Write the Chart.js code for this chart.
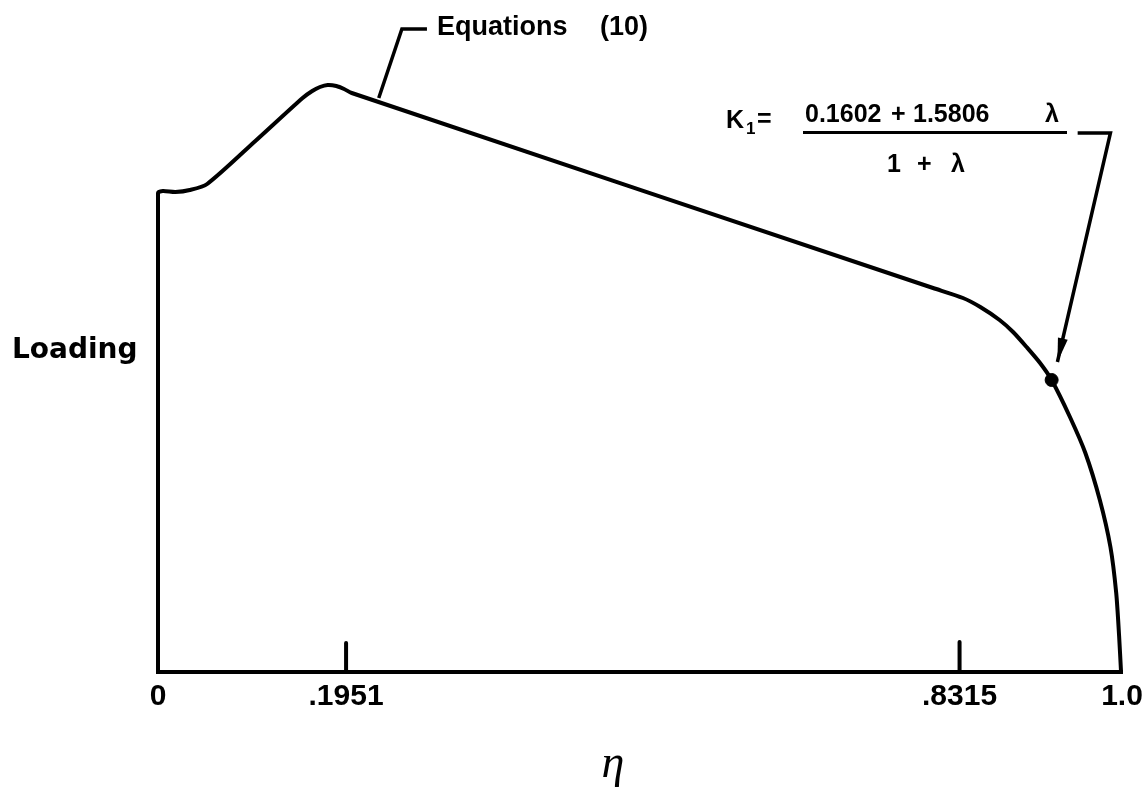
<!DOCTYPE html>
<html>
<head>
<meta charset="utf-8">
<script src="https://cdn.jsdelivr.net/npm/chart.js@4"></script>
<style>
html,body{margin:0;padding:0;background:#fff;}
#wrap{width:1144px;height:791px;position:relative;}
</style>
</head>
<body>
<div id="wrap"><canvas id="c" width="1144" height="791"></canvas></div>
<script>
// ---- data ----
const etaValues = [0, 0, 0.005, 0.018, 0.033, 0.051, 0.101, 0.150, 0.160, 0.168, 0.176, 0.185, 0.193, 0.201, 0.804, 0.835, 0.853, 0.873, 0.887, 0.901, 0.915, 0.927, 0.946, 0.962, 0.977, 0.988, 0.994, 0.997, 0.999];
const loadingValues = [0, 4.79, 4.81, 4.80, 4.82, 4.88, 5.31, 5.74, 5.81, 5.85, 5.87, 5.86, 5.83, 5.79, 3.84, 3.74, 3.65, 3.52, 3.40, 3.25, 3.09, 2.92, 2.55, 2.19, 1.72, 1.25, 0.79, 0.36, 0];
const tickValues = [0, 0.1951, 0.8315, 1.0];
const tickLabels = ['0', '.1951', '.8315', '1.0'];
const tickMarkEta = [0.1951, 0.8315];
const tickMarkHeight = [0.29, 0.30];
const markedEta = [0.927];
const markedLoading = [2.92];
const equationsLeaderEta = [0.279, 0.253, 0.229];
const equationsLeaderLoading = [6.43, 6.43, 5.74];
const k1LeaderEta = [0.954, 0.988, 0.933];
const k1LeaderLoading = [5.39, 5.39, 3.10];

const toXY = (xs, ys) => xs.map((v, i) => ({x: v, y: ys[i]}));

const datasets = [
  {data: toXY(etaValues, loadingValues), borderColor: '#000', borderWidth: 4, pointRadius: 0, tension: 0.25, borderJoinStyle: 'round', borderCapStyle: 'round', clip: false},
  {data: toXY(markedEta, markedLoading), showLine: false, pointRadius: 6.5, pointBackgroundColor: '#000', pointBorderColor: '#000', clip: false},
  {data: toXY(equationsLeaderEta, equationsLeaderLoading), borderColor: '#000', borderWidth: 3.5, pointRadius: 0, tension: 0, clip: false},
  {data: toXY(k1LeaderEta, k1LeaderLoading), borderColor: '#000', borderWidth: 3.5, pointRadius: 0, tension: 0, borderCapStyle: 'butt', clip: false}
];
tickMarkEta.forEach((e, i) => {
  datasets.push({data: [{x: e, y: 0}, {x: e, y: tickMarkHeight[i]}], borderColor: '#000', borderWidth: 4, pointRadius: 0, borderCapStyle: 'round', clip: false});
});

const annot = {
  id: 'annot',
  afterDatasetsDraw(chart) {
    const {ctx, scales: {x, y}} = chart;
    ctx.save();
    ctx.fillStyle = '#000';
    ctx.strokeStyle = '#000';
    // arrowhead at the end of the K1 leader
    const n = k1LeaderEta.length;
    const tx = x.getPixelForValue(k1LeaderEta[n - 1]), ty = y.getPixelForValue(k1LeaderLoading[n - 1]);
    const fx = x.getPixelForValue(k1LeaderEta[n - 2]), fy = y.getPixelForValue(k1LeaderLoading[n - 2]);
    const a = Math.atan2(ty - fy, tx - fx), c = Math.cos(a), s = Math.sin(a);
    const L = 24, W = 5;
    ctx.beginPath();
    ctx.moveTo(tx, ty);
    ctx.lineTo(tx - L * c + W * s, ty - L * s - W * c);
    ctx.lineTo(tx - L * c - W * s, ty - L * s + W * c);
    ctx.closePath();
    ctx.fill();

    ctx.textBaseline = 'alphabetic';
    ctx.textAlign = 'left';
    // Loading
    ctx.font = 'bold 28px "DejaVu Sans"';
    ctx.fillText('Loading', 12, 358);
    // Equations (10)
    ctx.font = 'bold 27px "Liberation Sans"';
    ctx.fillText('Equations', 437, 35);
    ctx.fillText('(10)', 600, 35);
    // K1 formula
    ctx.font = 'bold 25px "Liberation Sans"';
    ctx.fillText('K', 726, 128);
    ctx.font = 'bold 17px "Liberation Sans"';
    ctx.fillText('1', 746, 134);
    ctx.font = 'bold 25px "Liberation Sans"';
    ctx.fillText('=', 757, 127);
    ctx.fillText('0.1602', 805, 122);
    ctx.fillText('+', 891, 122);
    ctx.fillText('1.5806', 913, 122);
    ctx.fillText('\u03bb', 1045, 122);
    ctx.lineWidth = 3;
    ctx.beginPath();
    ctx.moveTo(803, 132.5);
    ctx.lineTo(1067, 132.5);
    ctx.stroke();
    ctx.fillText('1', 887, 172);
    ctx.fillText('+', 917, 172);
    ctx.fillText('\u03bb', 951, 172);
    // eta axis title
    ctx.font = 'italic 46px "Liberation Serif"';
    ctx.textAlign = 'center';
    ctx.fillText('\u03b7', 613, 777);
    ctx.restore();
  }
};

new Chart(document.getElementById('c'), {
  type: 'line',
  data: {datasets},
  options: {
    responsive: false,
    animation: false,
    devicePixelRatio: 1,
    parsing: false,
    layout: {padding: {left: 158, right: 22, top: 72, bottom: 0}},
    plugins: {legend: {display: false}, tooltip: {enabled: false}},
    events: [],
    scales: {
      x: {
        type: 'linear', min: 0, max: 1,
        afterBuildTicks: s => { s.ticks = tickValues.map(v => ({value: v})); },
        afterFit: s => { s.height = 119; s.paddingLeft = 0; s.paddingRight = 0; },
        ticks: {
          autoSkip: false, maxRotation: 0, padding: 7, color: '#000',
          font: {family: '"Liberation Sans", sans-serif', weight: 'bold', size: 30},
          callback: v => { const i = tickValues.findIndex(t => Math.abs(t - v) < 1e-6); return i >= 0 ? tickLabels[i] : ''; }
        },
        grid: {display: false, drawTicks: false},
        border: {display: true, width: 4, color: '#000'}
      },
      y: {display: false, min: 0, max: 6}
    }
  },
  plugins: [annot]
});
</script>
</body>
</html>
